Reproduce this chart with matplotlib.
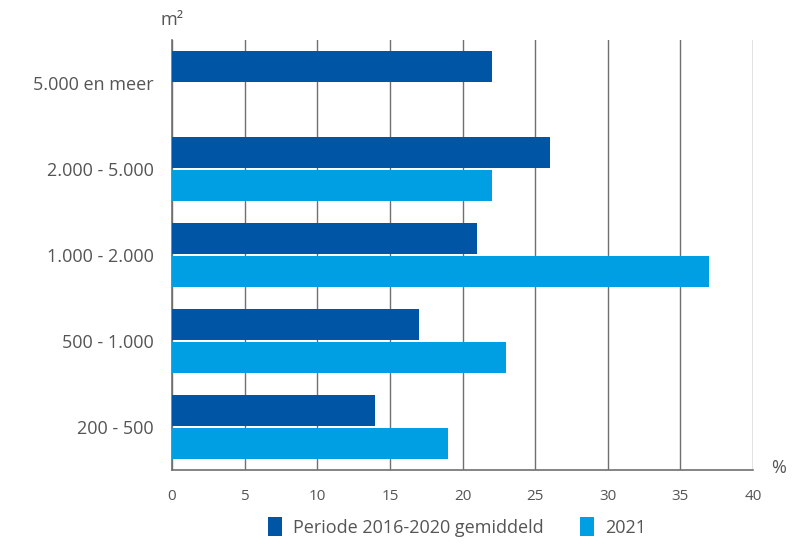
import matplotlib
matplotlib.use("Agg")
import matplotlib.pyplot as plt
import numpy as np

categories = ["200 - 500", "500 - 1.000", "1.000 - 2.000", "2.000 - 5.000", "5.000 en meer"]
periode = [14, 17, 21, 26, 22]
y2021 = [19, 23, 37, 22, 0]
xticks = [0, 5, 10, 15, 20, 25, 30, 35, 40]

dark = "#0055a5"
light = "#009fe3"
grid = "#707070"
txt = "#555555"

plt.rcParams['font.family'] = ['Open Sans', 'DejaVu Sans']

fig = plt.figure(figsize=(7.98, 5.44), dpi=100)
ax = fig.add_axes([172/798, 1-470/544, (753-172)/798, (470-40)/544])

y = np.arange(len(categories))
h = 0.365
ax.barh(y + 0.195, periode, height=h, color=dark, zorder=3, label="Periode 2016-2020 gemiddeld")
ax.barh(y - 0.195, y2021, height=h, color=light, zorder=3, label="2021")

ax.set_xlim(0, 40)
ax.set_ylim(-0.5, 4.5)
ax.set_xticks(xticks)
ax.set_xticklabels([str(t) for t in xticks])
ax.set_yticks(y)
ax.set_yticklabels(categories)
ax.tick_params(axis='both', length=0, colors=txt)
ax.tick_params(axis='x', pad=14, labelsize=11)
ax.tick_params(axis='y', pad=13, labelsize=13)
for t in ax.get_xticklabels() + ax.get_yticklabels():
    t.set_color(txt)

ax.grid(axis='x', color=grid, linewidth=1.0, zorder=0)
for s in ['top', 'right']:
    ax.spines[s].set_visible(False)
ax.spines['left'].set_color(grid)
ax.spines['bottom'].set_color(grid)
ax.spines['left'].set_linewidth(1.2)
ax.spines['bottom'].set_linewidth(1.2)

fig.text(160/798, 1-20/544, "m²", color=txt, fontsize=13, va='center', ha='left')
fig.text(771/798, 1-468/544, "%", color=txt, fontsize=13, va='center', ha='left')

leg = fig.legend(loc='center', bbox_to_anchor=(457/798, 1-527/544), ncol=2, frameon=False,
                 fontsize=13, handlelength=0.8, handleheight=1.2, columnspacing=2.0, handletextpad=0.6)
for t in leg.get_texts():
    t.set_color(txt)

fig.savefig("out.png", dpi=100)
